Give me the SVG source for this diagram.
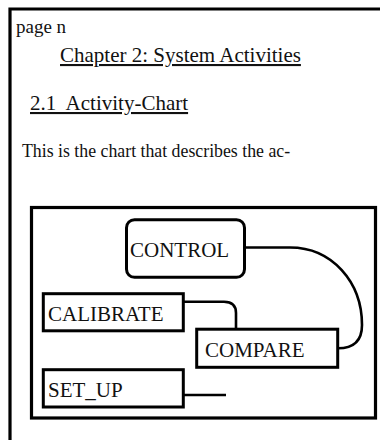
<svg xmlns="http://www.w3.org/2000/svg" width="380" height="440" viewBox="0 0 380 440">
<style>
text{font-family:'Liberation Serif','Times New Roman',Times,serif;fill:#111}
.frame{fill:none;stroke:#000;stroke-width:3.2}
.node{fill:#fff;stroke:#000;stroke-width:3}
.lbl{font-size:21px}
.conn{fill:none;stroke:#000;stroke-width:2.6}
</style>
<rect width="380" height="440" fill="#fff"/>
<g id="page" font-family="Liberation Serif, serif">
<path class="frame" d="M10,440 L10,9 L380,9" stroke-width="3.6"/>
<text x="16" y="33" font-size="19">page n</text>
<text x="60" y="62" font-size="21" text-decoration="underline">Chapter 2: System Activities</text>
<text x="30" y="110" font-size="21" text-decoration="underline" xml:space="preserve" style="white-space:pre">2.1  Activity-Chart</text>
<text x="22" y="157" font-size="17.8">This is the chart that describes the ac-</text>
</g>
<g id="chart">
<rect class="frame" x="31.5" y="207.5" width="344" height="210.5"/>
</g>
<g id="connectors">
<path class="conn" d="M244,247.5 L290,247.5 C332,247.5 362,282 362,325 C362,340 355,348.3 338,348.3"/>
<path class="conn" d="M183,301.7 L224,301.7 C232,301.7 236,306 236,313 L236,329"/>
<path class="conn" d="M183,395 L226,395"/>
</g>
<g id="CONTROL" font-family="Liberation Serif, serif">
<rect class="node" x="126.5" y="219.7" width="118" height="57.6" rx="8"/>
<text class="lbl" x="130" y="256.5">CONTROL</text>
</g>
<g id="CALIBRATE" font-family="Liberation Serif, serif">
<rect class="node" x="43.3" y="293.7" width="140" height="37.1"/>
<text class="lbl" x="48" y="320.7">CALIBRATE</text>
</g>
<g id="COMPARE" font-family="Liberation Serif, serif">
<rect class="node" x="196.7" y="329.2" width="141" height="38.1"/>
<text class="lbl" x="205" y="356.7">COMPARE</text>
</g>
<g id="SET_UP" font-family="Liberation Serif, serif">
<rect class="node" x="43.3" y="369.7" width="140" height="37.3"/>
<text class="lbl" x="48" y="396.7">SET_UP</text>
</g>
</svg>
